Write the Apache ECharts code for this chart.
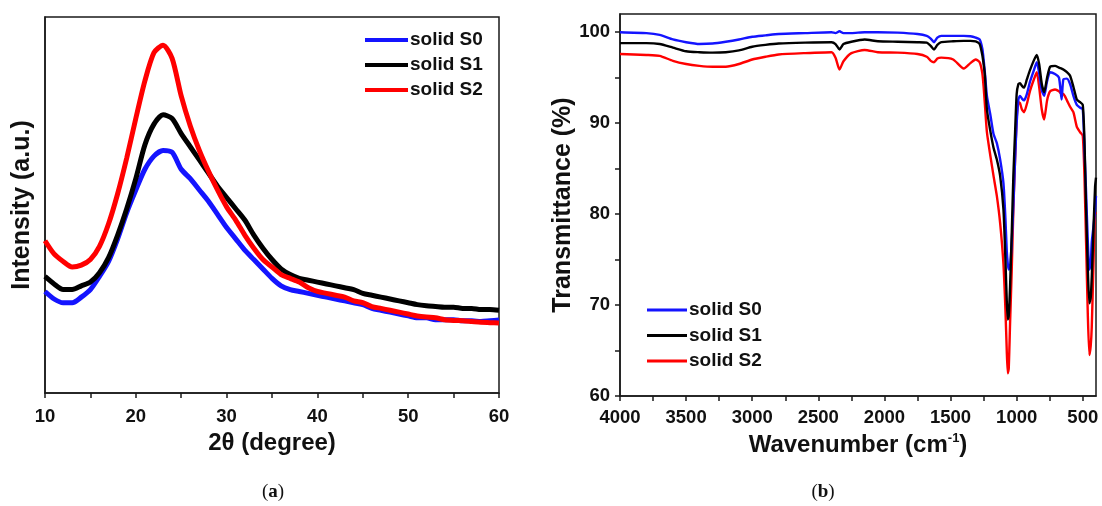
<!DOCTYPE html>
<html><head><meta charset="utf-8">
<script src="https://cdn.jsdelivr.net/npm/echarts@6/dist/echarts.min.js"></script>
<style>html,body{margin:0;padding:0;background:#fff}#c{width:1102px;height:506px}</style>
</head><body><div id="c"></div>
<script>
const seriesNames = ['solid S0', 'solid S1', 'solid S2'];
const seriesColors = ['#1414ff', '#000000', '#ff0000'];

// (a) XRD
const xrdTheta = [10,11,12,13,14,15,16,17,18,19,20,21,22,23,24,25,26,27,28,29,30,31,32,33,34,35,36,37,38,39,40,41,42,43,44,45,46,47,48,49,50,51,52,53,54,55,56,57,58,59,60];
const xrdS0 = [27,25,24,24,25.5,27.5,31,35,41,48,54,59.5,63,64.5,64,59.5,57,54,51,47.5,44,41,38,35.5,33,30.5,28.5,27.5,27,26.5,26,25.5,25,24.5,24,23.5,22.5,22,21.5,21,20.5,20,20,19.5,19.5,19.5,19.2,19.2,19,19.2,19.4];
const xrdS1 = [31,29,27.5,27.5,28.5,29.5,32,36,42,49,57,66,71.5,74,73,69,65.5,62,58.5,55,52,49,46,42,38.5,35.5,33,31.5,30.5,30,29.5,29,28.5,28,27.5,26.5,26,25.5,25,24.5,24,23.5,23.2,23,22.8,22.8,22.5,22.5,22.2,22.2,22];
const xrdS2 = [40.5,37,35,33.5,34,35.5,39,45,53,62.5,73,83,90.5,92.5,89,79,71,64.5,59,54,49.5,46,42,38.5,35.5,33.5,31.5,30.5,29.5,28,27,26.5,26,25.5,24.5,24,23,22.5,22,21.5,21,20.5,20.2,20,19.5,19.3,19.2,19,18.8,18.7,18.6];
const xrdTicks = [10,15,20,25,30,35,40,45,50,55,60];
const xrdLabels = [10,20,30,40,50,60];

// (b) FTIR
const wavenumber = [4000,3800,3700,3600,3500,3400,3300,3200,3100,3000,2900,2800,2600,2400,2370,2340,2310,2250,2150,2050,1900,1750,1680,1650,1625,1600,1570,1480,1400,1350,1310,1280,1260,1250,1240,1225,1200,1175,1150,1125,1100,1085,1075,1067,1060,1050,1037,1025,1012,1000,987,975,960,944,923,900,870,848,830,810,792,770,747,710,680,660,647,620,596,571,545,520,500,487,475,462,450,440,432,420,407,400];
const ftirS0 = [100,99.9,99.7,99.2,98.9,98.7,98.75,98.95,99.2,99.5,99.65,99.8,99.9,100,99.9,100.1,99.9,99.9,100,100,99.95,99.8,99.6,99.3,98.9,99.4,99.6,99.6,99.6,99.55,99.4,99.2,98.2,97,95.5,93,91,88.8,87.8,86,83.4,79.5,76,74.5,73.9,74.2,77,81,86,90,92.6,93,92.7,92.5,93.2,94.5,95.8,96.7,95.5,93.6,93,94.6,95.6,95.4,95,92.6,94.8,94.9,94.3,93,92,91.7,91.5,87,82.4,77,73.9,74.5,76.9,78.5,80.5,82];
const ftirS1 = [98.8,98.8,98.7,98.3,97.9,97.8,97.75,97.8,98,98.4,98.6,98.75,98.85,98.9,98.7,98.1,98.7,98.95,99.2,99,98.95,98.9,98.85,98.5,98.1,98.6,98.9,99,99.05,99.05,99,98.7,97.5,96.5,95.2,91.5,89.2,87.3,86,84.2,80.5,75,70.5,68.4,68.8,72,78,84.2,89,93.2,94.3,94.4,94.1,93.9,94.8,95.8,96.9,97.5,96.5,94.3,93.4,95,96.2,96.3,96.1,96,95.9,95.6,95.2,94,92.6,92.3,92,88,80.5,74,70.2,70.8,73.1,78,83,84];
const ftirS2 = [97.6,97.5,97.4,96.85,96.5,96.3,96.2,96.2,96.5,97,97.3,97.55,97.7,97.8,97.2,95.9,96.8,97.7,98.05,97.8,97.75,97.6,97.3,96.85,96.7,97.1,97.2,97,96,96.6,97,96.7,95.5,94,92,89,86.5,84.2,82,79,74.5,69.5,65,62.5,63,67.9,74,80.5,86,90.5,92.3,92.2,91.5,91.2,92.1,93.5,94.8,95.6,94,91.5,90.4,92.5,93.5,93.7,93.5,93.2,93.2,92.5,91.8,91.2,89.6,89,88.6,84,76.9,69,64.5,65.5,67.6,74,80.2,80];
const ftirXTicks = [500,750,1000,1250,1500,1750,2000,2250,2500,2750,3000,3250,3500,3750,4000];
const ftirXLabels = [500,1000,1500,2000,2500,3000,3500,4000];
const ftirYTicks = [60,65,70,75,80,85,90,95,100];
const ftirYLabels = [60,70,80,90,100];

const FONT = "'Liberation Sans', Arial, sans-serif";
const INK = '#111';
const axisCommon = {
  axisLine: {show: true, lineStyle: {color: '#1a1a1a', width: 1.5}},
  splitLine: {show: false}
};
const tickStyle = (vals) => ({show: true, inside: false, length: 5, lineStyle: {color: '#1a1a1a', width: 1.5}, customValues: vals});
const labelStyle = (vals, margin) => ({customValues: vals, fontFamily: FONT, fontWeight: 'bold', fontSize: 18.5, color: INK, margin: margin, formatter: v => String(v)});
const xrdSets = [xrdS0, xrdS1, xrdS2];
const ftirSets = [ftirS0, ftirS1, ftirS2];

const series = [];
seriesNames.forEach((n, i) => {
  series.push({
    name: n, type: 'line', xAxisIndex: 0, yAxisIndex: 0, symbol: 'none', smooth: 0.25,
    data: xrdTheta.map((t, k) => [t, xrdSets[i][k]]),
    lineStyle: {color: seriesColors[i], width: 5}, itemStyle: {color: seriesColors[i]},
    z: 2 + i
  });
});
seriesNames.forEach((n, i) => {
  series.push({
    name: n, type: 'line', xAxisIndex: 1, yAxisIndex: 1, symbol: 'none', smooth: 0.2,
    data: wavenumber.map((w, k) => [w, ftirSets[i][k]]),
    lineStyle: {color: seriesColors[i], width: 2.4}, itemStyle: {color: seriesColors[i]},
    z: 2 + (i === 0 ? 1 : i === 1 ? 2 : 0)
  });
});

const legendText = {fontFamily: FONT, fontWeight: 'bold', fontSize: 19, color: INK, lineHeight: 20, padding: [0, 0, 0, -3]};
const chart = echarts.init(document.getElementById('c'), null, {renderer: 'canvas'});
chart.setOption({
  animation: false,
  backgroundColor: '#fff',
  textStyle: {fontFamily: FONT},
  grid: [
    {left: 45, right: 603, top: 17, bottom: 113, show: true, borderColor: '#1a1a1a', borderWidth: 1.5, backgroundColor: 'transparent'},
    {left: 620, right: 6, top: 14, bottom: 110, show: true, borderColor: '#1a1a1a', borderWidth: 1.5, backgroundColor: 'transparent'}
  ],
  legend: [
    {data: seriesNames, orient: 'vertical', left: 365, top: 30, padding: 0, icon: 'rect',
      itemWidth: 43, itemHeight: 4, itemGap: 5, textStyle: legendText},
    {data: seriesNames, orient: 'vertical', left: 647, top: 300, padding: 0, icon: 'rect',
      itemWidth: 40, itemHeight: 3, itemGap: 5.5, textStyle: legendText}
  ],
  xAxis: [
    Object.assign({}, axisCommon, {
      gridIndex: 0, type: 'value', min: 10, max: 60,
      axisTick: tickStyle(xrdTicks), axisLabel: labelStyle(xrdLabels, 14),
      name: '2θ (degree)', nameLocation: 'middle', nameGap: 35,
      nameTextStyle: {fontFamily: FONT, fontWeight: 'bold', fontSize: 24, color: INK}
    }),
    Object.assign({}, axisCommon, {
      gridIndex: 1, type: 'value', min: 400, max: 4000, inverse: true,
      axisTick: tickStyle(ftirXTicks), axisLabel: labelStyle(ftirXLabels, 12),
      name: 'Wavenumber (cm{sup|-1})', nameLocation: 'middle', nameGap: 34,
      nameTextStyle: {fontFamily: FONT, fontWeight: 'bold', fontSize: 24, color: INK,
        rich: {sup: {fontFamily: FONT, fontWeight: 'bold', fontSize: 13, color: INK, padding: [0, 0, 14, 0]}}}
    })
  ],
  yAxis: [
    Object.assign({}, axisCommon, {
      gridIndex: 0, type: 'value', min: 0, max: 100,
      axisTick: {show: false}, axisLabel: {show: false},
      name: 'Intensity (a.u.)', nameLocation: 'middle', nameGap: 10,
      nameTextStyle: {fontFamily: FONT, fontWeight: 'bold', fontSize: 25, color: INK}
    }),
    Object.assign({}, axisCommon, {
      gridIndex: 1, type: 'value', min: 60, max: 102,
      axisTick: tickStyle(ftirYTicks), axisLabel: labelStyle(ftirYLabels, 10),
      name: 'Transmittance (%)', nameLocation: 'middle', nameGap: 40,
      nameTextStyle: {fontFamily: FONT, fontWeight: 'bold', fontSize: 25, color: INK}
    })
  ],
  graphic: [
    {type: 'text', x: 273, y: 492, style: {text: '{p|(}{b|a}{p|)}', align: 'center', verticalAlign: 'middle',
      rich: {p: {fontFamily: "'Liberation Serif', serif", fontSize: 19, fill: INK}, b: {fontFamily: "'Liberation Serif', serif", fontSize: 19, fontWeight: 'bold', fill: INK}}}},
    {type: 'text', x: 823, y: 492, style: {text: '{p|(}{b|b}{p|)}', align: 'center', verticalAlign: 'middle',
      rich: {p: {fontFamily: "'Liberation Serif', serif", fontSize: 19, fill: INK}, b: {fontFamily: "'Liberation Serif', serif", fontSize: 19, fontWeight: 'bold', fill: INK}}}}
  ],
  series: series
});
</script>
</body></html>
